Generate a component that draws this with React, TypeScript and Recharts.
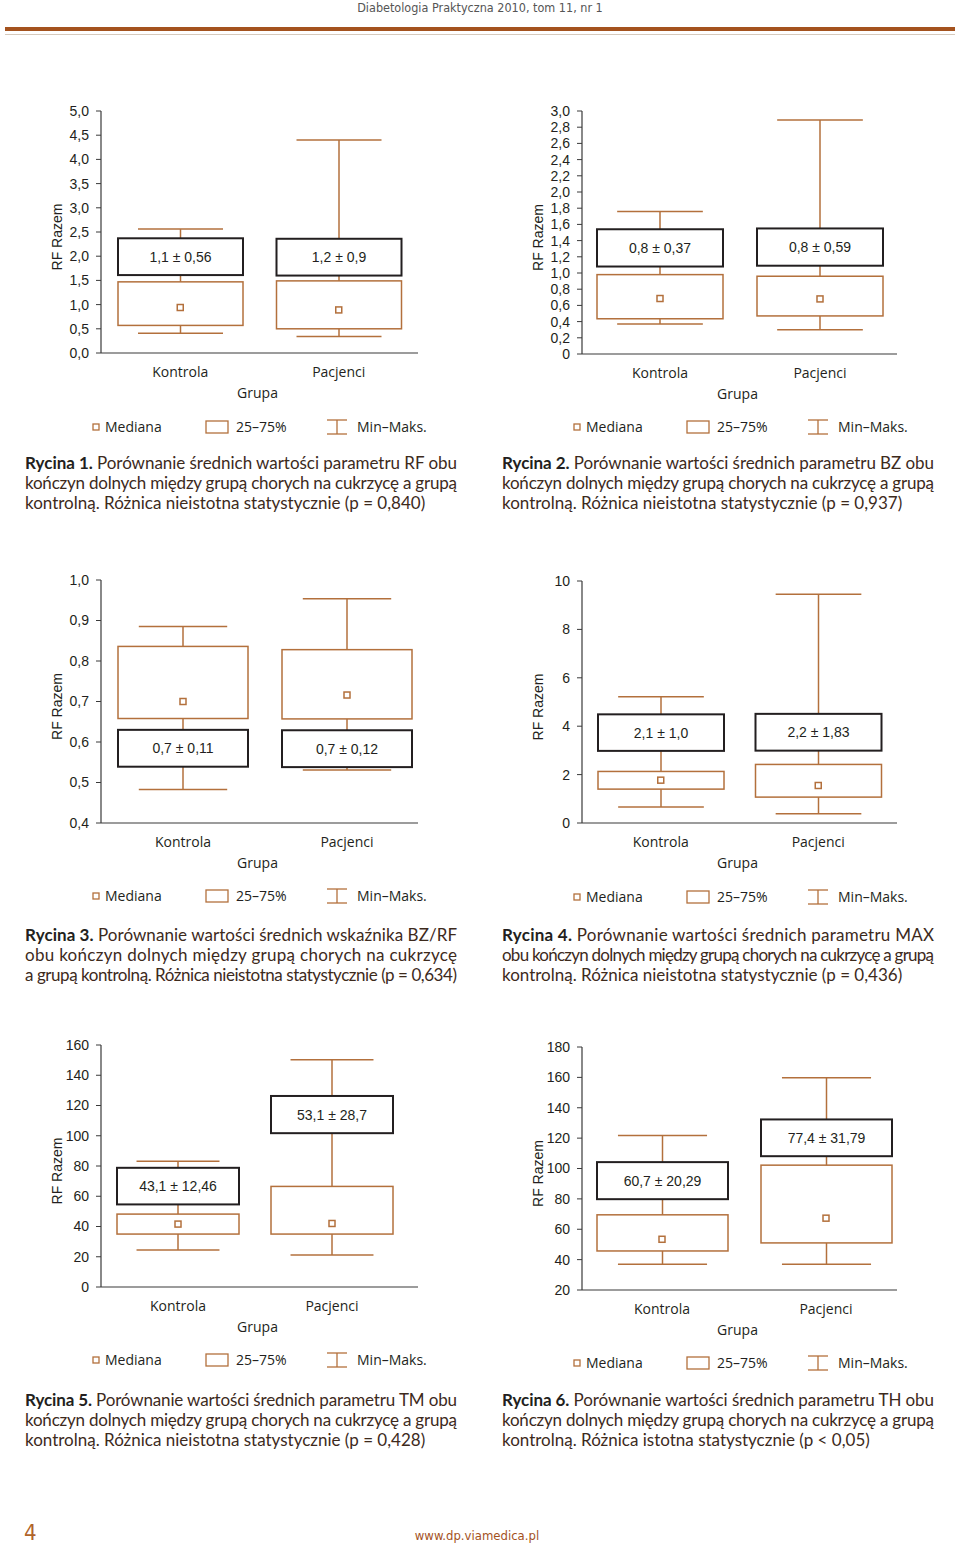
import React from 'react';
import { ComposedChart, Bar, Scatter, XAxis, YAxis, Label } from 'recharts';

// ---------- data ----------
const GROUPS = ['Kontrola', 'Pacjenci'];

// Rycina 1 (RF)
const c1Min = [0.41, 0.34];
const c1Q1 = [0.57, 0.5];
const c1Median = [0.94, 0.89];
const c1Q3 = [1.47, 1.49];
const c1Max = [2.56, 4.4];
const c1LabLo = [1.61, 1.6];
const c1LabHi = [2.37, 2.36];
const c1Text = ['1,1 ± 0,56', '1,2 ± 0,9'];
const c1Ticks = [0, 0.5, 1, 1.5, 2, 2.5, 3, 3.5, 4, 4.5, 5];
const c1TickLabels = ['0,0', '0,5', '1,0', '1,5', '2,0', '2,5', '3,0', '3,5', '4,0', '4,5', '5,0'];

// Rycina 2 (BZ)
const c2Min = [0.37, 0.3];
const c2Q1 = [0.435, 0.47];
const c2Median = [0.685, 0.68];
const c2Q3 = [0.98, 0.96];
const c2Max = [1.76, 2.89];
const c2LabLo = [1.08, 1.09];
const c2LabHi = [1.54, 1.55];
const c2Text = ['0,8 ± 0,37', '0,8 ± 0,59'];
const c2Ticks = [0, 0.2, 0.4, 0.6, 0.8, 1, 1.2, 1.4, 1.6, 1.8, 2, 2.2, 2.4, 2.6, 2.8, 3];
const c2TickLabels = ['0', '0,2', '0,4', '0,6', '0,8', '1,0', '1,2', '1,4', '1,6', '1,8', '2,0', '2,2', '2,4', '2,6', '2,8', '3,0'];

// Rycina 3 (BZ/RF)
const c3Min = [0.483, 0.531];
const c3Q1 = [0.658, 0.657];
const c3Median = [0.7, 0.716];
const c3Q3 = [0.836, 0.828];
const c3Max = [0.885, 0.954];
const c3LabLo = [0.539, 0.538];
const c3LabHi = [0.63, 0.629];
const c3Text = ['0,7 ± 0,11', '0,7 ± 0,12'];
const c3Ticks = [0.4, 0.5, 0.6, 0.7, 0.8, 0.9, 1];
const c3TickLabels = ['0,4', '0,5', '0,6', '0,7', '0,8', '0,9', '1,0'];

// Rycina 4 (MAX)
const c4Min = [0.66, 0.38];
const c4Q1 = [1.4, 1.07];
const c4Median = [1.77, 1.55];
const c4Q3 = [2.13, 2.42];
const c4Max = [5.22, 9.45];
const c4LabLo = [2.98, 2.99];
const c4LabHi = [4.49, 4.51];
const c4Text = ['2,1 ± 1,0', '2,2 ± 1,83'];
const c4Ticks = [0, 2, 4, 6, 8, 10];
const c4TickLabels = ['0', '2', '4', '6', '8', '10'];

// Rycina 5 (TM)
const c5Min = [24.4, 21.1];
const c5Q1 = [35.0, 35.0];
const c5Median = [41.6, 42.0];
const c5Q3 = [48.2, 66.5];
const c5Max = [83.2, 150.3];
const c5LabLo = [54.6, 101.7];
const c5LabHi = [78.8, 126.3];
const c5Text = ['43,1 ± 12,46', '53,1 ± 28,7'];
const c5Ticks = [0, 20, 40, 60, 80, 100, 120, 140, 160];
const c5TickLabels = ['0', '20', '40', '60', '80', '100', '120', '140', '160'];

// Rycina 6 (TH)
const c6Min = [36.9, 36.9];
const c6Q1 = [45.7, 51.0];
const c6Median = [53.4, 67.3];
const c6Q3 = [69.5, 102.2];
const c6Max = [121.8, 159.8];
const c6LabLo = [79.8, 108.1];
const c6LabHi = [104.2, 132.3];
const c6Text = ['60,7 ± 20,29', '77,4 ± 31,79'];
const c6Ticks = [20, 40, 60, 80, 100, 120, 140, 160, 180];
const c6TickLabels = ['20', '40', '60', '80', '100', '120', '140', '160', '180'];

const CAPTIONS: { bold: string; lines: string[]; fullLast?: boolean }[] = [
  {
    bold: 'Rycina 1.',
    lines: [
      ' Porównanie średnich wartości parametru RF obu',
      'kończyn dolnych między grupą chorych na cukrzycę a grupą',
      'kontrolną. Różnica nieistotna statystycznie (p = 0,840)',
    ],
  },
  {
    bold: 'Rycina 2.',
    lines: [
      ' Porównanie wartości średnich parametru BZ obu',
      'kończyn dolnych między grupą chorych na cukrzycę a grupą',
      'kontrolną. Różnica nieistotna statystycznie (p = 0,937)',
    ],
  },
  {
    bold: 'Rycina 3.',
    lines: [
      ' Porównanie wartości średnich wskaźnika BZ/RF',
      'obu kończyn dolnych między grupą chorych na cukrzycę',
      'a grupą kontrolną. Różnica nieistotna statystycznie (p = 0,634)',
    ],
    fullLast: true,
  },
  {
    bold: 'Rycina 4.',
    lines: [
      ' Porównanie wartości średnich parametru MAX',
      'obu kończyn dolnych między grupą chorych na cukrzycę a grupą',
      'kontrolną. Różnica nieistotna statystycznie (p = 0,436)',
    ],
  },
  {
    bold: 'Rycina 5.',
    lines: [
      ' Porównanie wartości średnich parametru TM obu',
      'kończyn dolnych między grupą chorych na cukrzycę a grupą',
      'kontrolną. Różnica nieistotna statystycznie (p = 0,428)',
    ],
  },
  {
    bold: 'Rycina 6.',
    lines: [
      ' Porównanie wartości średnich parametru TH obu',
      'kończyn dolnych między grupą chorych na cukrzycę a grupą',
      'kontrolną. Różnica istotna statystycznie (p < 0,05)',
    ],
  },
];

// ---------- styles ----------
const BROWN = '#b3703c';
const INK = '#231f20';
const AXIS = '#3a3a3a';
const TICK_FONT = "'Liberation Sans', Arial, sans-serif";
const HUMAN_FONT = "'Open Sans', 'Noto Sans', sans-serif";
const CAPTION_FONT = "Lato, 'Open Sans', sans-serif";

const LowWhisker = (p: any) => {
  const { x, y, width, height } = p;
  if (x == null || y == null || height == null) return null;
  const cx = x + width / 2;
  const cw = width * 0.68;
  return (
    <g>
      <line x1={cx} x2={cx} y1={y} y2={y + height} stroke={BROWN} strokeWidth={1.5} />
      <line x1={cx - cw / 2} x2={cx + cw / 2} y1={y + height} y2={y + height} stroke={BROWN} strokeWidth={1.5} />
    </g>
  );
};

const HighWhisker = (p: any) => {
  const { x, y, width, height } = p;
  if (x == null || y == null || height == null) return null;
  const cx = x + width / 2;
  const cw = width * 0.68;
  return (
    <g>
      <line x1={cx} x2={cx} y1={y} y2={y + height} stroke={BROWN} strokeWidth={1.5} />
      <line x1={cx - cw / 2} x2={cx + cw / 2} y1={y} y2={y} stroke={BROWN} strokeWidth={1.5} />
    </g>
  );
};

const BoxShape = (p: any) => {
  const { x, y, width, height } = p;
  if (x == null || y == null || height == null) return null;
  return <rect x={x} y={y} width={width} height={height} fill="#fff" stroke={BROWN} strokeWidth={1.5} />;
};

const MedianShape = (p: any) => {
  const { cx, cy } = p;
  if (cx == null || cy == null) return null;
  return <rect x={cx - 3} y={cy - 3} width={6} height={6} fill="#fff" stroke={BROWN} strokeWidth={1.5} />;
};

const makeLabelBox = (texts: string[]) => (p: any) => {
  const { x, y, width, height, index } = p;
  if (x == null || y == null || height == null) return null;
  const t = (p.payload && p.payload.text) || texts[index];
  return (
    <g>
      <rect x={x} y={y} width={width} height={height} fill="#fff" stroke={INK} strokeWidth={2} />
      <text
        x={x + width / 2}
        y={y + height / 2 + 5}
        textAnchor="middle"
        fontFamily={TICK_FONT}
        fontSize={14}
        fill={INK}
      >
        {t}
      </text>
    </g>
  );
};

const XTick = (p: any) => (
  <text x={p.x} y={p.y + 24} textAnchor="middle" fontFamily={HUMAN_FONT} fontSize={14} fill={INK}>
    {p.payload.value}
  </text>
);

type BoxProps = {
  left: number;
  plotTop: number;
  plotH: number;
  width: number;
  barSize: number;
  padL: number;
  padR: number;
  mins: number[];
  q1s: number[];
  meds: number[];
  q3s: number[];
  maxs: number[];
  los: number[];
  his: number[];
  texts: string[];
  ticks: number[];
  tickLabels: string[];
};

function BoxChart(props: BoxProps) {
  const {
    left,
    plotTop,
    plotH,
    width,
    barSize,
    padL,
    padR,
    mins,
    q1s,
    meds,
    q3s,
    maxs,
    los,
    his,
    texts,
    ticks,
    tickLabels,
  } = props;
  const data = GROUPS.map((g, i) => ({
    group: g,
    base: mins[i],
    lowW: q1s[i] - mins[i],
    box: q3s[i] - q1s[i],
    highW: maxs[i] - q3s[i],
    median: meds[i],
    labBase: los[i],
    labBox: his[i] - los[i],
    text: texts[i],
  }));
  const marginTop = 10;
  const xh = 55;
  const yw = 71;
  const height = plotH + marginTop + xh;
  const domain: [number, number] = [ticks[0], ticks[ticks.length - 1]];
  const fmt = (v: number) => {
    const i = ticks.indexOf(v);
    return i >= 0 ? tickLabels[i] : String(v);
  };
  const labelBox = makeLabelBox(texts);
  const pad = { left: padL, right: padR };
  return (
    <div style={{ position: 'absolute', left, top: plotTop - marginTop }}>
      <ComposedChart
        width={width}
        height={height}
        data={data}
        margin={{ top: marginTop, right: 2, bottom: 0, left: 0 }}
      >
        <XAxis
          xAxisId="main"
          dataKey="group"
          type="category"
          height={xh}
          padding={pad}
          axisLine={{ stroke: AXIS, strokeWidth: 1.2 }}
          tickLine={false}
          tickSize={0}
          tickMargin={0}
          tick={<XTick />}
          interval={0}
        >
          <Label
            content={(lp: any) => {
              const vb = lp.viewBox || {};
              return (
                <text
                  x={vb.x + vb.width / 2 - 2}
                  y={vb.y + 45}
                  textAnchor="middle"
                  fontFamily={HUMAN_FONT}
                  fontSize={14}
                  fill={INK}
                >
                  Grupa
                </text>
              );
            }}
          />
        </XAxis>
        <XAxis xAxisId="lab" dataKey="group" type="category" hide height={0} padding={pad} />
        <YAxis
          type="number"
          domain={domain}
          ticks={ticks}
          allowDataOverflow
          width={yw}
          interval={0}
          axisLine={{ stroke: AXIS, strokeWidth: 1.2 }}
          tickLine={{ stroke: AXIS }}
          tickSize={5}
          tickMargin={7}
          tickFormatter={fmt}
          tick={{ fontFamily: TICK_FONT, fontSize: 14, fill: INK }}
        >
          <Label
            content={(lp: any) => {
              const vb = lp.viewBox || {};
              const ax = vb.x + vb.width;
              const cx = ax - 39;
              const cy = vb.y + vb.height / 2 + 5;
              return (
                <text
                  x={cx}
                  y={cy}
                  transform={`rotate(-90 ${cx} ${cy})`}
                  textAnchor="middle"
                  fontFamily={TICK_FONT}
                  fontSize={14}
                  fill={INK}
                >
                  RF Razem
                </text>
              );
            }}
          />
        </YAxis>
        <Bar xAxisId="main" dataKey="base" stackId="a" fill="none" barSize={barSize} isAnimationActive={false} />
        <Bar xAxisId="main" dataKey="lowW" stackId="a" shape={LowWhisker} barSize={barSize} isAnimationActive={false} />
        <Bar xAxisId="main" dataKey="box" stackId="a" shape={BoxShape} barSize={barSize} isAnimationActive={false} />
        <Bar xAxisId="main" dataKey="highW" stackId="a" shape={HighWhisker} barSize={barSize} isAnimationActive={false} />
        <Bar xAxisId="lab" dataKey="labBase" stackId="l" fill="none" barSize={barSize} isAnimationActive={false} />
        <Bar xAxisId="lab" dataKey="labBox" stackId="l" shape={labelBox} barSize={barSize} isAnimationActive={false} />
        <Scatter xAxisId="main" dataKey="median" shape={MedianShape} isAnimationActive={false} />
      </ComposedChart>
    </div>
  );
}

function LegendRow({ left, cy }: { left: number; cy: number }) {
  const h = 24;
  const m = h / 2;
  const textStyle = { fontFamily: HUMAN_FONT, fontSize: 14, fill: INK } as const;
  return (
    <svg style={{ position: 'absolute', left, top: cy - m }} width={479} height={h}>
      <rect x={93} y={m - 3} width={6} height={6} fill="#fff" stroke={BROWN} strokeWidth={1.3} />
      <text x={105} y={m + 5} {...textStyle}>
        Mediana
      </text>
      <rect x={206} y={m - 6} width={22} height={12} fill="#fff" stroke={BROWN} strokeWidth={1.3} />
      <text x={236} y={m + 5} {...textStyle}>
        25–75%
      </text>
      <line x1={327} x2={347} y1={m - 7} y2={m - 7} stroke={BROWN} strokeWidth={1.3} />
      <line x1={327} x2={347} y1={m + 7} y2={m + 7} stroke={BROWN} strokeWidth={1.3} />
      <line x1={337} x2={337} y1={m - 7} y2={m + 7} stroke={BROWN} strokeWidth={1.3} />
      <text x={357} y={m + 5} {...textStyle}>
        Min–Maks.
      </text>
    </svg>
  );
}

function Caption({ left, top, idx }: { left: number; top: number; idx: number }) {
  const c = CAPTIONS[idx];
  const n = c.lines.length;
  const padTop = 8;
  return (
    <svg style={{ position: 'absolute', left, top: top - padTop }} width={440} height={80}>
      {c.lines.map((ln, i) => {
        const justify = i < n - 1 || !!c.fullLast;
        return (
          <text
            key={i}
            x={0}
            y={padTop + 16 + i * 20}
            fontFamily={CAPTION_FONT}
            fontSize={17}
            fill="#3d2a1c"
            textLength={justify ? 432 : undefined}
            lengthAdjust={justify ? 'spacing' : undefined}
            xmlSpace="preserve"
          >
            {i === 0 ? (
              <tspan fontWeight="bold" fill={INK}>
                {c.bold}
              </tspan>
            ) : null}
            {ln}
          </text>
        );
      })}
    </svg>
  );
}

export default function App() {
  const LEFT = 30;
  const RIGHT = 511;
  return (
    <div
      style={{
        position: 'absolute',
        left: 0,
        top: 0,
        width: 960,
        height: 1545,
        background: '#fff',
        overflow: 'hidden',
      }}
    >
      {/* header */}
      <div
        style={{
          position: 'absolute',
          left: 0,
          top: 0,
          width: 960,
          textAlign: 'center',
          fontFamily: "'Liberation Sans Narrow', 'DejaVu Sans Condensed', sans-serif",
          fontSize: 12.5,
          lineHeight: '16px',
          color: '#555',
        }}
      >
        Diabetologia Praktyczna 2010, tom 11, nr 1
      </div>
      <div style={{ position: 'absolute', left: 5, top: 27, width: 950, height: 4, background: '#a4521e' }} />
      <div style={{ position: 'absolute', left: 5, top: 34, width: 950, height: 1, background: '#d6cabd' }} />

      {/* charts */}
      <BoxChart
        left={LEFT}
        plotTop={111}
        plotH={242}
        width={390}
        barSize={125}
        padL={0}
        padR={0}
        mins={c1Min}
        q1s={c1Q1}
        meds={c1Median}
        q3s={c1Q3}
        maxs={c1Max}
        los={c1LabLo}
        his={c1LabHi}
        texts={c1Text}
        ticks={c1Ticks}
        tickLabels={c1TickLabels}
      />
      <BoxChart
        left={RIGHT}
        plotTop={111}
        plotH={243}
        width={388}
        barSize={126}
        padL={-2}
        padR={-3}
        mins={c2Min}
        q1s={c2Q1}
        meds={c2Median}
        q3s={c2Q3}
        maxs={c2Max}
        los={c2LabLo}
        his={c2LabHi}
        texts={c2Text}
        ticks={c2Ticks}
        tickLabels={c2TickLabels}
      />
      <BoxChart
        left={LEFT}
        plotTop={580}
        plotH={243}
        width={390}
        barSize={130}
        padL={0}
        padR={-11}
        mins={c3Min}
        q1s={c3Q1}
        meds={c3Median}
        q3s={c3Q3}
        maxs={c3Max}
        los={c3LabLo}
        his={c3LabHi}
        texts={c3Text}
        ticks={c3Ticks}
        tickLabels={c3TickLabels}
      />
      <BoxChart
        left={RIGHT}
        plotTop={581}
        plotH={242}
        width={388}
        barSize={126}
        padL={0}
        padR={0}
        mins={c4Min}
        q1s={c4Q1}
        meds={c4Median}
        q3s={c4Q3}
        maxs={c4Max}
        los={c4LabLo}
        his={c4LabHi}
        texts={c4Text}
        ticks={c4Ticks}
        tickLabels={c4TickLabels}
      />
      <BoxChart
        left={LEFT}
        plotTop={1045}
        plotH={242}
        width={390}
        barSize={122}
        padL={0}
        padR={9}
        mins={c5Min}
        q1s={c5Q1}
        meds={c5Median}
        q3s={c5Q3}
        maxs={c5Max}
        los={c5LabLo}
        his={c5LabHi}
        texts={c5Text}
        ticks={c5Ticks}
        tickLabels={c5TickLabels}
      />
      <BoxChart
        left={RIGHT}
        plotTop={1047}
        plotH={243}
        width={388}
        barSize={131}
        padL={-2}
        padR={-11}
        mins={c6Min}
        q1s={c6Q1}
        meds={c6Median}
        q3s={c6Q3}
        maxs={c6Max}
        los={c6LabLo}
        his={c6LabHi}
        texts={c6Text}
        ticks={c6Ticks}
        tickLabels={c6TickLabels}
      />

      {/* legends */}
      <LegendRow left={0} cy={427} />
      <LegendRow left={481} cy={427} />
      <LegendRow left={0} cy={896} />
      <LegendRow left={481} cy={897} />
      <LegendRow left={0} cy={1360} />
      <LegendRow left={481} cy={1363} />

      {/* captions */}
      <Caption left={25} top={453} idx={0} />
      <Caption left={502} top={453} idx={1} />
      <Caption left={25} top={925} idx={2} />
      <Caption left={502} top={925} idx={3} />
      <Caption left={25} top={1390} idx={4} />
      <Caption left={502} top={1390} idx={5} />

      {/* footer */}
      <div
        style={{
          position: 'absolute',
          left: 24,
          top: 1520,
          fontFamily: "'Liberation Sans Narrow', 'DejaVu Sans Condensed', sans-serif",
          fontSize: 22,
          lineHeight: '26px',
          color: '#b0642a',
        }}
      >
        4
      </div>
      <div
        style={{
          position: 'absolute',
          left: 0,
          top: 1528,
          width: 954,
          textAlign: 'center',
          fontFamily: "'Liberation Sans Narrow', 'DejaVu Sans Condensed', sans-serif",
          fontSize: 13,
          lineHeight: '16px',
          color: '#a4521e',
        }}
      >
        www.dp.viamedica.pl
      </div>
    </div>
  );
}
